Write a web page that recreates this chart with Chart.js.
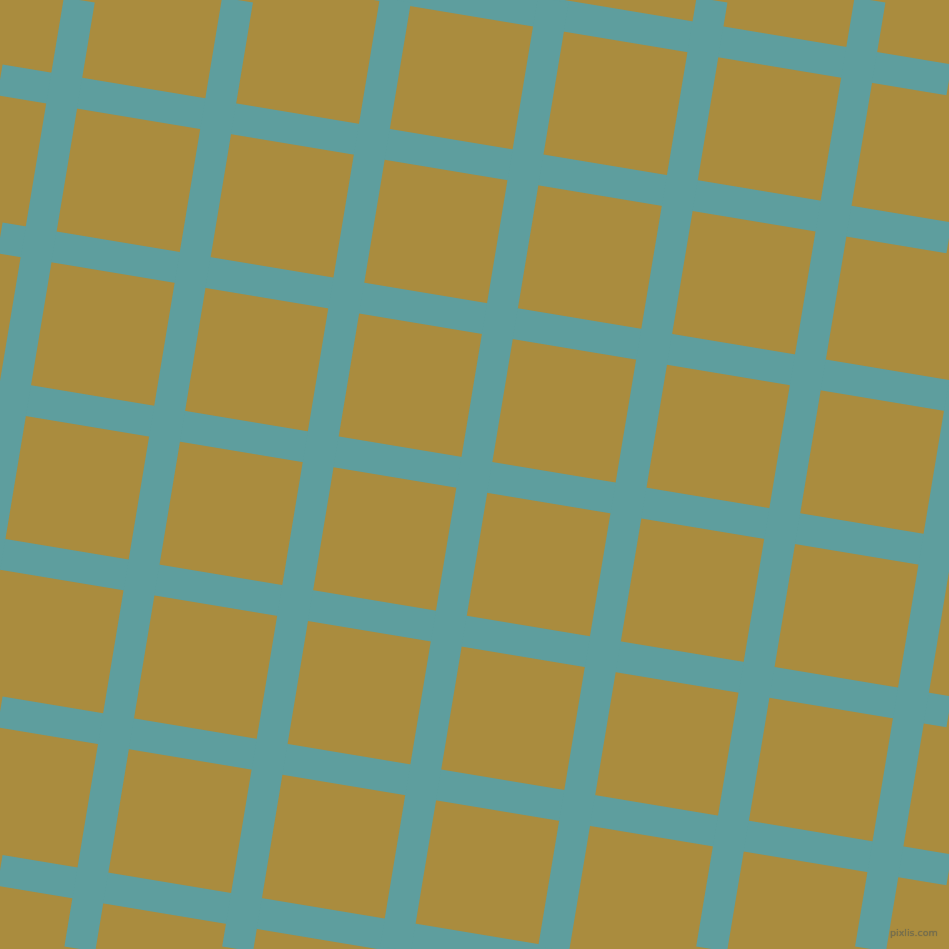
<!DOCTYPE html>
<html>
<head>
<meta charset="utf-8">
<script src="https://cdn.jsdelivr.net/npm/chart.js@4"></script>
<style>
  html, body { margin: 0; padding: 0; background: #aa8c3e; }
  #wrap { position: relative; width: 949px; height: 949px; overflow: hidden; }
  #mark {
    position: absolute; left: 890px; top: 927px;
    font: 9.5px "DejaVu Sans", sans-serif; color: #77704e;
    text-shadow: 0 0 1px #6a6248;
  }
</style>
</head>
<body>
<div id="wrap">
  <canvas id="grid"></canvas>
  <div id="mark">pixlis.com</div>
</div>
<script>
// tilted stripes, read off the picture (pixel units, y measured from the top)
// near-vertical stripes: x of the centre at the top edge and at the bottom edge
const colTop    = [79.3, 237.5, 395.4, 553.3, 712.0, 870.0, 1028.0];
const colBottom = [-78.7, 79.8, 237.6, 395.5, 553.6, 711.6, 870.5];
// near-horizontal stripes: y of the centre at the left edge and at the right edge
const rowLeft   = [-78.1, 79.9, 237.9, 395.9, 553.9, 711.9, 870.4];
const rowRight  = [79.9, 237.9, 395.9, 553.9, 711.9, 869.9, 1028.2];

const W = 949;
const stripe = '#5e9e9e';

const datasets = [];
for (let i = 0; i < colTop.length; i++) {
  datasets.push({
    data: [{x: colTop[i], y: 0}, {x: colBottom[i], y: W}],
    borderColor: stripe, borderWidth: 31.3, showLine: true, pointRadius: 0
  });
}
for (let i = 0; i < rowLeft.length; i++) {
  datasets.push({
    data: [{x: 0, y: rowLeft[i]}, {x: W, y: rowRight[i]}],
    borderColor: stripe, borderWidth: 31.3, showLine: true, pointRadius: 0
  });
}

new Chart(document.getElementById('grid'), {
  type: 'scatter',
  data: { datasets: datasets },
  options: {
    responsive: true,
    maintainAspectRatio: false,
    animation: false,
    layout: { padding: 0 },
    plugins: { legend: { display: false }, tooltip: { enabled: false } },
    scales: {
      x: { type: 'linear', min: 0, max: W, display: false },
      y: { type: 'linear', min: 0, max: W, reverse: true, display: false }
    }
  }
});
</script>
</body>
</html>
